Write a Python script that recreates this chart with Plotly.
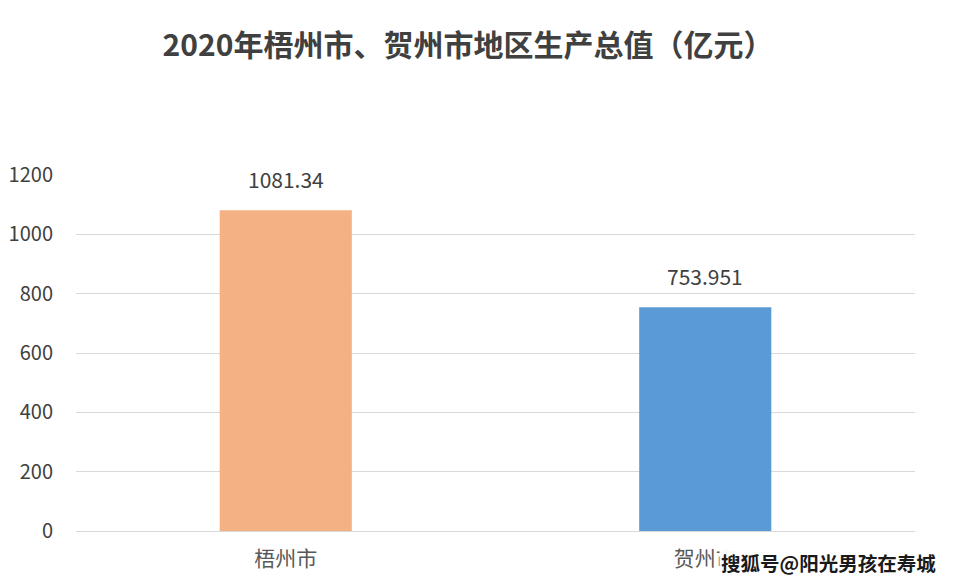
import plotly.graph_objects as go

# data
cities = ["梧州市", "贺州市"]
gdp = [1081.34, 753.951]
gdp_labels = ["1081.34", "753.951"]
bar_colors = ["#F4B183", "#5B9BD5"]
y_ticks = [0, 200, 400, 600, 800, 1000, 1200]

# the page adds an 8px body margin, so the figure is a bit smaller than the window
OFF = 8
W, H = 958 - 2 * OFF, 584 - 2 * OFF
L, R, T, B = 76 - OFF, 43 - OFF, 175 - OFF, 53 - OFF
pw, ph = W - L - R, H - T - B

font_cn = "Noto Sans CJK SC, Microsoft YaHei, sans-serif"

fig = go.Figure()
fig.add_trace(go.Bar(
    x=cities, y=gdp, marker=dict(color=bar_colors, line=dict(width=0)),
    width=0.315, hoverinfo="x+y",
))

# value labels above bars
for c, v, t in zip(cities, gdp, gdp_labels):
    fig.add_annotation(x=c, y=v, text=t, showarrow=False, yanchor="bottom",
                       yshift=14, font=dict(size=21, color="#404040", family=font_cn))

# watermark in the bottom-right corner
fig.add_annotation(xref="paper", yref="paper", x=(938 - OFF - L) / pw,
                   y=-(562 - OFF - (T + ph)) / ph,
                   xanchor="right", yanchor="middle", text="<b>搜狐号@阳光男孩在寿城</b>",
                   showarrow=False, bgcolor="rgba(255,255,255,0.95)",
                   font=dict(size=19.5, color="#1a1a1a", family=font_cn))

fig.update_layout(
    width=W, height=H,
    margin=dict(l=L, r=R, t=T, b=B),
    paper_bgcolor="white", plot_bgcolor="white",
    showlegend=False,
    title=dict(text="<b>2020年梧州市、贺州市地区生产总值（亿元）</b>",
               x=(468 - OFF) / W, xanchor="center", y=1 - (45 - OFF) / H, yanchor="middle",
               font=dict(size=30, color="#404040", family=font_cn)),
    font=dict(family=font_cn, color="#595959"),
)
fig.update_xaxes(showline=False, ticks="", ticklabelstandoff=13, automargin=False,
                 tickfont=dict(size=21, color="#595959", family=font_cn))
fig.update_yaxes(range=[0, 1200], tickvals=y_ticks, showgrid=True, gridcolor="#d9d9d9",
                 gridwidth=1, zeroline=True, zerolinecolor="#d9d9d9", zerolinewidth=1,
                 ticks="", ticklabelstandoff=22, showline=False, automargin=False,
                 tickfont=dict(size=20, color="#404040", family=font_cn))

fig.write_html("out.html")
